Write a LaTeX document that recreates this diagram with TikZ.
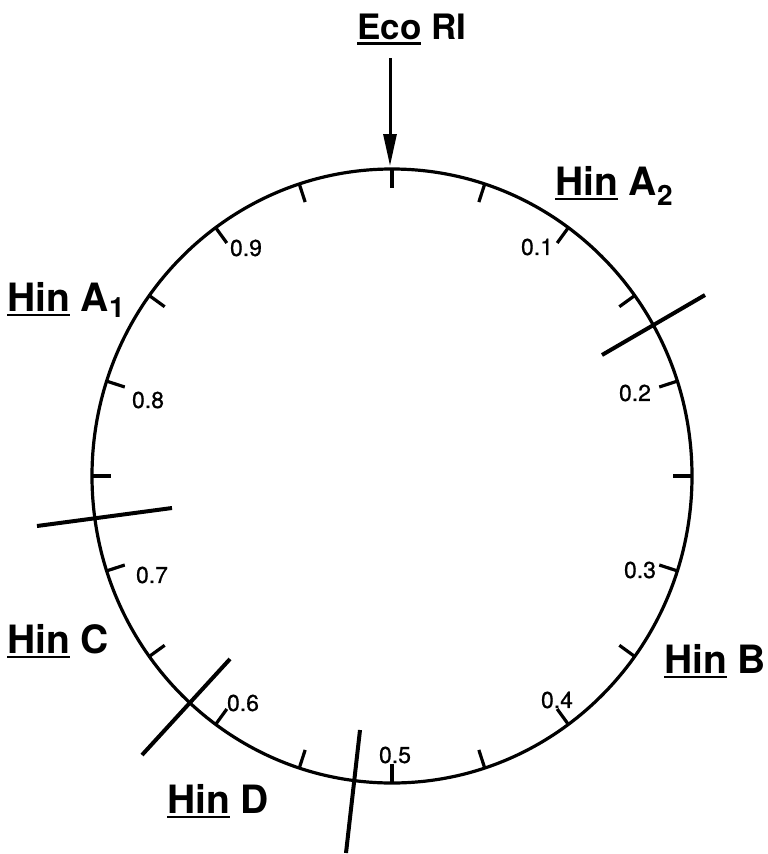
\documentclass[tikz,border=0pt]{standalone}
\usepackage{fontspec}
\setmainfont{TeX Gyre Heros}
\newfontfamily\digitfont[FakeBold=0.8]{TeX Gyre Heros}
\usetikzlibrary{arrows.meta}
\newcommand\myul[1]{\vtop{\hbox{#1}\kern2.5pt\hrule height 2.8pt}}
\begin{document}
\begin{tikzpicture}[x=1pt,y=-1pt,
  ring/.style={line width=3.2pt},
  tickmark/.style={line width=3.2pt},
  cutline/.style={line width=4pt},
  poslabel/.style={font=\digitfont\fontsize{23}{23}\selectfont, inner sep=0pt, anchor=center},
  site/.style={font=\fontsize{39}{39}\selectfont\bfseries, inner sep=0pt, anchor=base west}]
\useasboundingbox (0,0) rectangle (768,854);
% plasmid ring
\draw[ring] (392,476) ellipse [x radius=300pt, y radius=307pt];
% ticks every 0.05
\foreach \i in {0,...,19}{
  \draw[tickmark] ({392+300*sin(18*\i)},{476-307*cos(18*\i)}) -- ({392+281*sin(18*\i)},{476-288*cos(18*\i)});
}
% position labels
\node[poslabel] (p1) at (537,247) {0.1};
\node[poslabel] (p2) at (635,393) {0.2};
\node[poslabel] (p3) at (640,570) {0.3};
\node[poslabel] (p4) at (557,700) {0.4};
\node[poslabel] (p5) at (395,755) {0.5};
\node[poslabel] (p6) at (243,703) {0.6};
\node[poslabel] (p7) at (152,575) {0.7};
\node[poslabel] (p8) at (148,400) {0.8};
\node[poslabel] (p9) at (246,248) {0.9};
% cut sites
\coordinate (cA2o) at (705,295); \coordinate (cA2i) at (602,355);
\coordinate (cA1o) at (37,526);  \coordinate (cA1i) at (172,508);
\coordinate (cCDo) at (142,755); \coordinate (cCDi) at (230,659);
\coordinate (cDo) at (346,853);  \coordinate (cDi) at (360,730);
\draw[cutline] (cA2o) -- (cA2i);
\draw[cutline] (cA1o) -- (cA1i);
\draw[cutline] (cCDo) -- (cCDi);
\draw[cutline] (cDo) -- (cDi);
% Eco RI arrow
\coordinate (arrS) at (390,58);
\coordinate (arrE) at (390,166);
\draw[line width=3pt, -{Triangle[length=32pt,width=13pt]}] (arrS) -- (arrE);
% site labels
\node[site] (ecori) at (357,39) {\fontsize{35}{35}\selectfont\myul{Eco} RI};
\node[site] (hinA2) at (555,195) {\myul{Hin} A\raisebox{-10pt}{\fontsize{28}{28}\selectfont 2}};
\node[site] (hinA1) at (7,311) {\myul{Hin} A\raisebox{-6pt}{\fontsize{28}{28}\selectfont 1}};
\node[site] (hinB) at (664,673) {\myul{Hin} B};
\node[site] (hinC) at (7,653) {\myul{Hin} C};
\node[site] (hinD) at (167,813) {\myul{Hin} D};
\end{tikzpicture}
\end{document}
